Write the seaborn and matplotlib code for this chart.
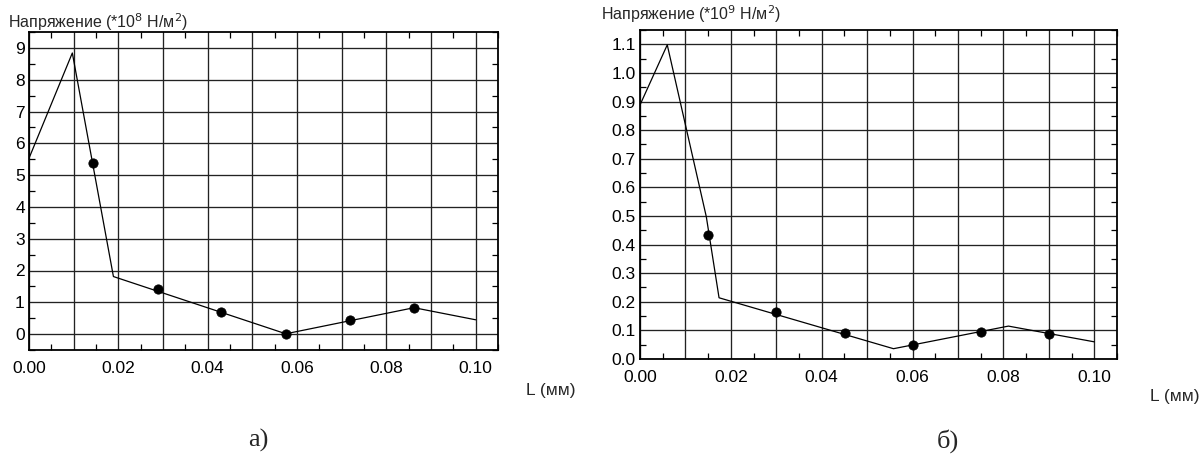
import numpy as np
import pandas as pd
import matplotlib
matplotlib.use("Agg")
import matplotlib.pyplot as plt
import seaborn as sns
from matplotlib.ticker import MultipleLocator

sns.set_theme(style="ticks")
plt.rcParams['font.family'] = ['Liberation Sans', 'DejaVu Sans']

# panel a) - stress *10^8
line_a_x = [0.0, 0.0097, 0.0189, 0.0575, 0.0862, 0.100]
line_a_y = [5.53, 8.84, 1.81, 0.01, 0.83, 0.45]
dots_a_x = [0.0144, 0.0288, 0.0430, 0.0575, 0.0718, 0.0862]
dots_a_y = [5.37, 1.41, 0.68, 0.01, 0.44, 0.82]

# panel б) - stress *10^9
line_b_x = [0.0, 0.0060, 0.0146, 0.0174, 0.0558, 0.0811, 0.100]
line_b_y = [0.888, 1.098, 0.497, 0.214, 0.036, 0.115, 0.060]
dots_b_x = [0.0150, 0.0300, 0.0451, 0.0601, 0.0750, 0.0900]
dots_b_y = [0.433, 0.164, 0.092, 0.050, 0.095, 0.087]

xticks = [0.00, 0.02, 0.04, 0.06, 0.08, 0.10]
yticks_a = list(range(0, 10))
yticks_b = [0.0, 0.1, 0.2, 0.3, 0.4, 0.5, 0.6, 0.7, 0.8, 0.9, 1.0, 1.1]

fig = plt.figure(figsize=(12.01, 4.55), dpi=100)
ax1 = fig.add_axes([29/1201, 105/455, 469/1201, 318/455])
ax2 = fig.add_axes([640/1201, 96/455, 477/1201, 329/455])


def style_axes(ax, lx, ly, dx, dy, ylim, yticks, ymin_step, yfmt):
    sns.lineplot(x=lx, y=ly, ax=ax, color='black', lw=0.9, sort=False,
                 estimator=None, zorder=3)
    sns.scatterplot(x=dx, y=dy, ax=ax, color='black', s=45,
                    edgecolor='black', zorder=4)
    ax.set_xlim(0.0, 0.105)
    ax.set_ylim(*ylim)
    grid_x = np.arange(0.0, 0.1001, 0.01)
    ax.set_xticks(grid_x)
    ax.xaxis.set_minor_locator(MultipleLocator(0.005))
    ax.set_yticks(yticks)
    ax.yaxis.set_minor_locator(MultipleLocator(ymin_step))
    ax.grid(True, which='major', color='#222222', lw=0.95)
    ax.set_xticklabels(['%.2f' % t if round(t * 100) % 2 == 0 else ''
                        for t in grid_x])
    ax.set_yticklabels([yfmt % t for t in yticks])
    ax.tick_params(which='major', length=0, labelsize=12.5, colors='black')
    ax.tick_params(axis='x', which='major', pad=8)
    ax.tick_params(axis='y', which='major', pad=3)
    ax.tick_params(which='minor', direction='in', length=4, width=0.9,
                   top=True, right=True, color='black')
    for s in ax.spines.values():
        s.set_color('black')
        s.set_linewidth(1.3)
    ax.set_xlabel('')
    ax.set_ylabel('')


style_axes(ax1, line_a_x, line_a_y, dots_a_x, dots_a_y, (-0.5, 9.5),
           yticks_a, 0.5, '%d')
style_axes(ax2, line_b_x, line_b_y, dots_b_x, dots_b_y, (0.0, 1.15),
           yticks_b, 0.05, '%.1f')

fig.text(8/1201, 1 - 22/455, 'Напряжение (*10$^8$ Н/м$^2$)', fontsize=11.5,
         ha='left', va='center')
fig.text(601/1201, 1 - 14/455, 'Напряжение (*10$^9$ Н/м$^2$)', fontsize=11.5,
         ha='left', va='center')
fig.text(576/1201, 1 - 390/455, 'L (мм)', fontsize=12.5, ha='right', va='center')
fig.text(1199/1201, 1 - 397/455, 'L (мм)', fontsize=12.5, ha='right', va='center')
fig.text(258/1201, 1 - 440/455, 'а)', fontsize=19, ha='center', va='center',
         family='Liberation Serif')
fig.text(948/1201, 1 - 441/455, 'б)', fontsize=19, ha='center', va='center',
         family='Liberation Serif')

fig.savefig('out.png', dpi=100, facecolor='white')
